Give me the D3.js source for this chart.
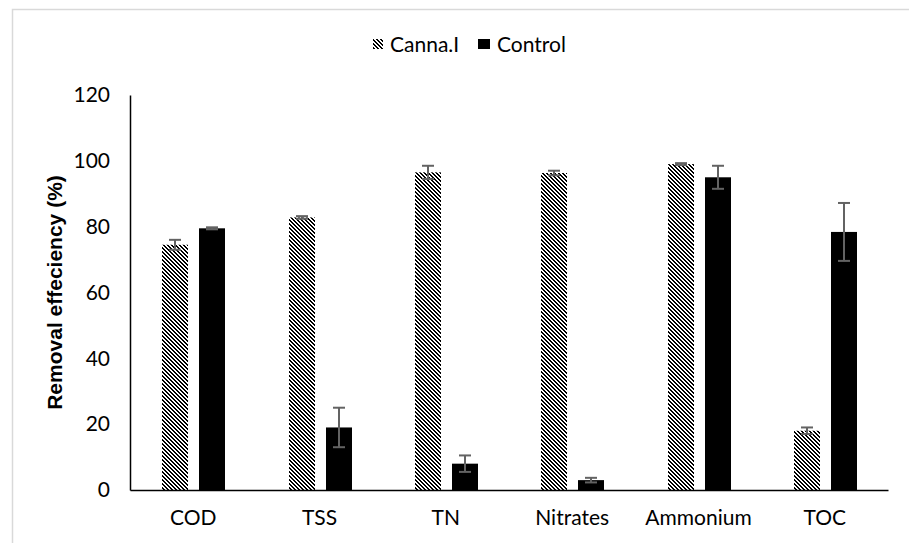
<!DOCTYPE html>
<html>
<head>
<meta charset="utf-8">
<script src="https://cdn.jsdelivr.net/npm/d3@7"></script>
<style>
  body { margin: 0; background: #fff; }
  svg { display: block; }
</style>
</head>
<body>
<svg id="chart" width="909" height="543"></svg>
<script>
let categories = ["COD", "TSS", "TN", "Nitrates", "Ammonium", "TOC"];
let series = ["Canna.I", "Control"];
let cannaValues = [74.5, 82.8, 96.5, 96.3, 99, 18];
let cannaErrors = [1.5, 0.4, 2, 0.7, 0.3, 1];
let controlValues = [79.5, 19, 8, 3, 95, 78.4];
let controlErrors = [0.3, 6, 2.5, 0.7, 3.5, 8.8];
let yTicks = [0, 20, 40, 60, 80, 100, 120];

let svg = d3.select("#chart");
let font = "Lato, 'Open Sans', sans-serif";

let margin = { left: 130, right: 21, top: 95, bottom: 53 };
let width = 909 - margin.left - margin.right;
let height = 543 - margin.top - margin.bottom;

// outer chart border (only top and left are visible)
svg.append("path")
  .attr("d", "M12.5,543 V9.5 H909")
  .attr("fill", "none")
  .attr("stroke", "#d9d9d9")
  .attr("stroke-width", 1.5);

// excel style wide downward diagonal
let pattern = svg.append("defs")
  .append("pattern")
  .attr("id", "diag")
  .attr("patternUnits", "userSpaceOnUse")
  .attr("width", 4)
  .attr("height", 4);
pattern.append("rect").attr("width", 4).attr("height", 4).attr("fill", "#fff");
[[0, 0], [1, 0], [1, 1], [2, 1], [2, 2], [3, 2], [3, 3], [0, 3]].forEach(p => {
  pattern.append("rect")
    .attr("x", p[0]).attr("y", p[1])
    .attr("width", 1).attr("height", 1)
    .attr("fill", "#000");
});

let g = svg.append("g")
  .attr("transform", `translate(${margin.left}, ${margin.top})`);

let x = d3.scaleBand().domain(categories).range([0, width]);
let xInner = d3.scaleBand().domain(series).range([0, 64]).paddingInner(0.3).round(true);
let y = d3.scaleLinear().domain([0, 120]).range([height, 0]);

// y axis
let yAxis = g.append("g")
  .call(d3.axisLeft(y).tickValues(yTicks).tickSize(0).tickPadding(20));
yAxis.select(".domain").attr("stroke", "#000").attr("stroke-width", 1.5);
yAxis.selectAll("text")
  .attr("font-family", font)
  .attr("font-size", 21)
  .attr("fill", "#000");

let rows = categories.map((c, i) => ({
  cat: c,
  bars: [
    { s: "Canna.I", v: cannaValues[i], e: cannaErrors[i] },
    { s: "Control", v: controlValues[i], e: controlErrors[i] }
  ]
}));

// whole-pixel offsets keep the hatch pattern crisp
let groups = g.selectAll(".grp")
  .data(rows)
  .enter()
  .append("g")
  .attr("class", "grp")
  .attr("transform", d => `translate(${Math.round(x(d.cat) + x.bandwidth() / 2 - 32)}, 0)`);

groups.selectAll("rect")
  .data(d => d.bars)
  .enter()
  .append("rect")
  .attr("x", d => xInner(d.s))
  .attr("width", xInner.bandwidth())
  .attr("y", d => y(d.v))
  .attr("height", d => height - y(d.v))
  .attr("fill", d => d.s === "Canna.I" ? "url(#diag)" : "#000");

// error bars
let err = groups.selectAll(".err")
  .data(d => d.bars)
  .enter()
  .append("g")
  .attr("class", "err")
  .attr("stroke", "#636363")
  .attr("stroke-width", 2);

err.append("line")
  .attr("x1", d => xInner(d.s) + xInner.bandwidth() / 2)
  .attr("x2", d => xInner(d.s) + xInner.bandwidth() / 2)
  .attr("y1", d => y(d.v - d.e))
  .attr("y2", d => y(d.v + d.e));
[-1, 1].forEach(sign => {
  err.append("line")
    .attr("x1", d => xInner(d.s) + xInner.bandwidth() / 2 - 6)
    .attr("x2", d => xInner(d.s) + xInner.bandwidth() / 2 + 6)
    .attr("y1", d => y(d.v + sign * d.e))
    .attr("y2", d => y(d.v + sign * d.e));
});

// x axis
let xAxis = g.append("g")
  .attr("transform", `translate(0, ${height})`)
  .call(d3.axisBottom(x).tickSize(0).tickPadding(20));
xAxis.select(".domain").attr("stroke", "#000").attr("stroke-width", 1.5);
xAxis.selectAll("text")
  .attr("font-family", font)
  .attr("font-size", 21)
  .attr("fill", "#000");

// y title
svg.append("text")
  .attr("transform", `translate(62, ${margin.top + height / 2}) rotate(-90)`)
  .attr("text-anchor", "middle")
  .attr("font-family", "Arial, 'Liberation Sans', sans-serif")
  .attr("font-weight", "bold")
  .attr("font-size", 21)
  .text("Removal effeciency (%)");

// legend
let legend = svg.append("g").attr("transform", "translate(373, 52)");
let legendX = [0, 105];
series.forEach((s, i) => {
  let item = legend.append("g").attr("transform", `translate(${legendX[i]}, 0)`);
  item.append("rect")
    .attr("x", 0).attr("y", -13)
    .attr("width", i === 0 ? 10 : 12).attr("height", 10)
    .attr("fill", i === 0 ? "url(#diag)" : "#000");
  item.append("text")
    .attr("x", i === 0 ? 17 : 19)
    .attr("y", 0)
    .attr("font-family", font)
    .attr("font-size", 21)
    .text(s);
});
</script>
</body>
</html>
